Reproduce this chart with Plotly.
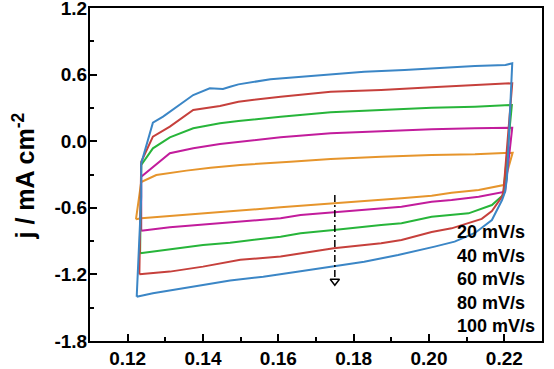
import plotly.graph_objects as go

# ---- data (E in V, j in mA cm^-2) ----
scan_rates = ["20 mV/s", "40 mV/s", "60 mV/s", "80 mV/s", "100 mV/s"]
colors = ["#e6952c", "#c21c9c", "#27b53a", "#c6403c", "#3b86c6"]

x_20 = [0.1222, 0.1236, 0.1276, 0.1312, 0.1356, 0.1420, 0.1499, 0.1632, 0.1739, 0.1873,
        0.2007, 0.2122, 0.2212, 0.2222, 0.2198, 0.2132, 0.2060, 0.2007, 0.1927, 0.1873,
        0.1747, 0.1659, 0.1606, 0.1472, 0.1400, 0.1312, 0.1236, 0.1222]
y_20 = [-0.704, -0.368, -0.305, -0.285, -0.265, -0.240, -0.214, -0.185, -0.160, -0.140,
        -0.124, -0.118, -0.109, -0.104, -0.395, -0.440, -0.465, -0.491, -0.513, -0.528,
        -0.560, -0.583, -0.596, -0.632, -0.650, -0.671, -0.695, -0.704]

x_40 = [0.1236, 0.1236, 0.1312, 0.1374, 0.1445, 0.1494, 0.1606, 0.1739, 0.1873, 0.2007,
        0.2122, 0.2212, 0.2221, 0.2202, 0.2132, 0.2060, 0.2007, 0.1927, 0.1873, 0.1747,
        0.1659, 0.1606, 0.1472, 0.1400, 0.1312, 0.1236]
y_40 = [-0.806, -0.320, -0.109, -0.064, -0.025, -0.005, 0.035, 0.071, 0.092, 0.107,
        0.116, 0.125, 0.122, -0.455, -0.500, -0.530, -0.545, -0.590, -0.605, -0.635,
        -0.665, -0.695, -0.734, -0.749, -0.776, -0.806]

x_60 = [0.1233, 0.1236, 0.1267, 0.1312, 0.1374, 0.1445, 0.1494, 0.1606, 0.1739, 0.1873,
        0.2007, 0.2122, 0.2215, 0.2220, 0.2197, 0.2167, 0.2105, 0.2007, 0.1927, 0.1873,
        0.1747, 0.1659, 0.1606, 0.1472, 0.1400, 0.1312, 0.1233]
y_60 = [-1.010, -0.214, -0.064, 0.035, 0.116, 0.161, 0.182, 0.221, 0.260, 0.281,
        0.302, 0.311, 0.326, 0.326, -0.485, -0.575, -0.650, -0.680, -0.740, -0.755,
        -0.800, -0.830, -0.860, -0.914, -0.935, -0.971, -1.010]

x_80 = [0.1231, 0.1236, 0.1267, 0.1312, 0.1374, 0.1445, 0.1494, 0.1606, 0.1739, 0.1873,
        0.2007, 0.2122, 0.2198, 0.2221, 0.2198, 0.2194, 0.2167, 0.2140, 0.2060, 0.2007,
        0.1927, 0.1873, 0.1747, 0.1659, 0.1606, 0.1499, 0.1400, 0.1312, 0.1231]
y_80 = [-1.199, -0.185, 0.041, 0.131, 0.281, 0.317, 0.356, 0.401, 0.446, 0.461,
        0.486, 0.506, 0.513, 0.522, -0.440, -0.500, -0.630, -0.700, -0.785, -0.818,
        -0.890, -0.920, -0.965, -1.010, -1.039, -1.068, -1.130, -1.175, -1.199]

x_100 = [0.1224, 0.1236, 0.1236, 0.1267, 0.1294, 0.1338, 0.1374, 0.1418, 0.1453, 0.1472,
         0.1494, 0.1579, 0.1694, 0.1828, 0.1935, 0.2007, 0.2122, 0.2203, 0.2221, 0.2207,
         0.2202, 0.2194, 0.2167, 0.2122, 0.2068, 0.2015, 0.1918, 0.1828, 0.1747, 0.1650,
         0.1560, 0.1499, 0.1472, 0.1400, 0.1312, 0.1267, 0.1224]
y_100 = [-1.401, -0.500, -0.200, 0.167, 0.221, 0.326, 0.416, 0.477, 0.470, 0.491,
         0.512, 0.558, 0.587, 0.626, 0.641, 0.657, 0.677, 0.686, 0.702, -0.334,
         -0.455, -0.530, -0.710, -0.827, -0.905, -0.950, -1.025, -1.086, -1.129, -1.176,
         -1.221, -1.240, -1.255, -1.295, -1.341, -1.370, -1.401]

series_x = [x_20, x_40, x_60, x_80, x_100]
series_y = [y_20, y_40, y_60, y_80, y_100]

x_tick_vals = [0.12, 0.14, 0.16, 0.18, 0.20, 0.22]
x_tick_text = ["0.12", "0.14", "0.16", "0.18", "0.20", "0.22"]
y_tick_vals = [-1.8, -1.2, -0.6, 0.0, 0.6, 1.2]
y_tick_text = ["-1.8", "-1.2", "-0.6", "0.0", "0.6", "1.2"]

arrow_x = [0.175, 0.175]
arrow_y = [-0.485, -1.235]
arrow_tip_y = [-1.262]

FONT = "Liberation Sans"

fig = go.Figure()
for xs, ys, c, name in zip(series_x, series_y, colors, scan_rates):
    fig.add_trace(go.Scatter(x=xs, y=ys, mode="lines", name=name,
                             line=dict(color=c, width=2)))

fig.add_trace(go.Scatter(x=arrow_x, y=arrow_y, mode="lines",
                         line=dict(color="black", width=1.5, dash="7px,3px,2px,3px"),
                         hoverinfo="skip"))
fig.add_trace(go.Scatter(x=arrow_x[:1], y=arrow_tip_y, mode="markers",
                         marker=dict(symbol="triangle-down-open", size=8,
                                     color="black", line=dict(width=1.5, color="black")),
                         hoverinfo="skip"))

axis_common = dict(
    showgrid=False, zeroline=False, showline=True, linecolor="black", linewidth=2,
    mirror=True, ticks="inside", ticklen=7, tickwidth=2, tickcolor="black",
    automargin=False, ticklabeloverflow="allow",
    tickfont=dict(family=FONT, size=19, color="black", weight="bold"),
)

fig.update_xaxes(range=[0.11, 0.23], tickvals=x_tick_vals, ticktext=x_tick_text,
                 minor=dict(dtick=0.01, tick0=0.11, ticks="inside", ticklen=4,
                            tickwidth=2, tickcolor="black"),
                 ticklabelstandoff=-1,
                 **axis_common)
fig.update_yaxes(range=[-1.8001, 1.2001], tickvals=y_tick_vals, ticktext=y_tick_text,
                 minor=dict(dtick=0.3, tick0=0.0, ticks="inside", ticklen=4,
                            tickwidth=2, tickcolor="black"),
                 ticklabelstandoff=-3,
                 **axis_common)

annotations = [dict(text="j / mA cm<sup>-2</sup>", xref="paper", yref="paper",
                    x=-0.146, y=0.494, textangle=-90, showarrow=False,
                    xanchor="center", yanchor="middle",
                    font=dict(family=FONT, size=25, color="black", weight="bold"))]
label_top = 0.326
label_step = 0.0703
for i, lab in enumerate(scan_rates):
    annotations.append(dict(text=lab, xref="paper", yref="paper", x=0.808,
                            y=label_top - i * label_step, showarrow=False,
                            xanchor="left", yanchor="middle",
                            font=dict(family=FONT, size=18, color="black", weight="bold")))

fig.update_layout(width=554, height=369, margin=dict(l=90, r=12, t=8, b=28),
                  plot_bgcolor="white", paper_bgcolor="white", showlegend=False,
                  annotations=annotations)

fig.write_html("out.html", config={"displayModeBar": False},
               post_script="document.body.style.margin='0px';document.body.style.overflow='hidden';")
